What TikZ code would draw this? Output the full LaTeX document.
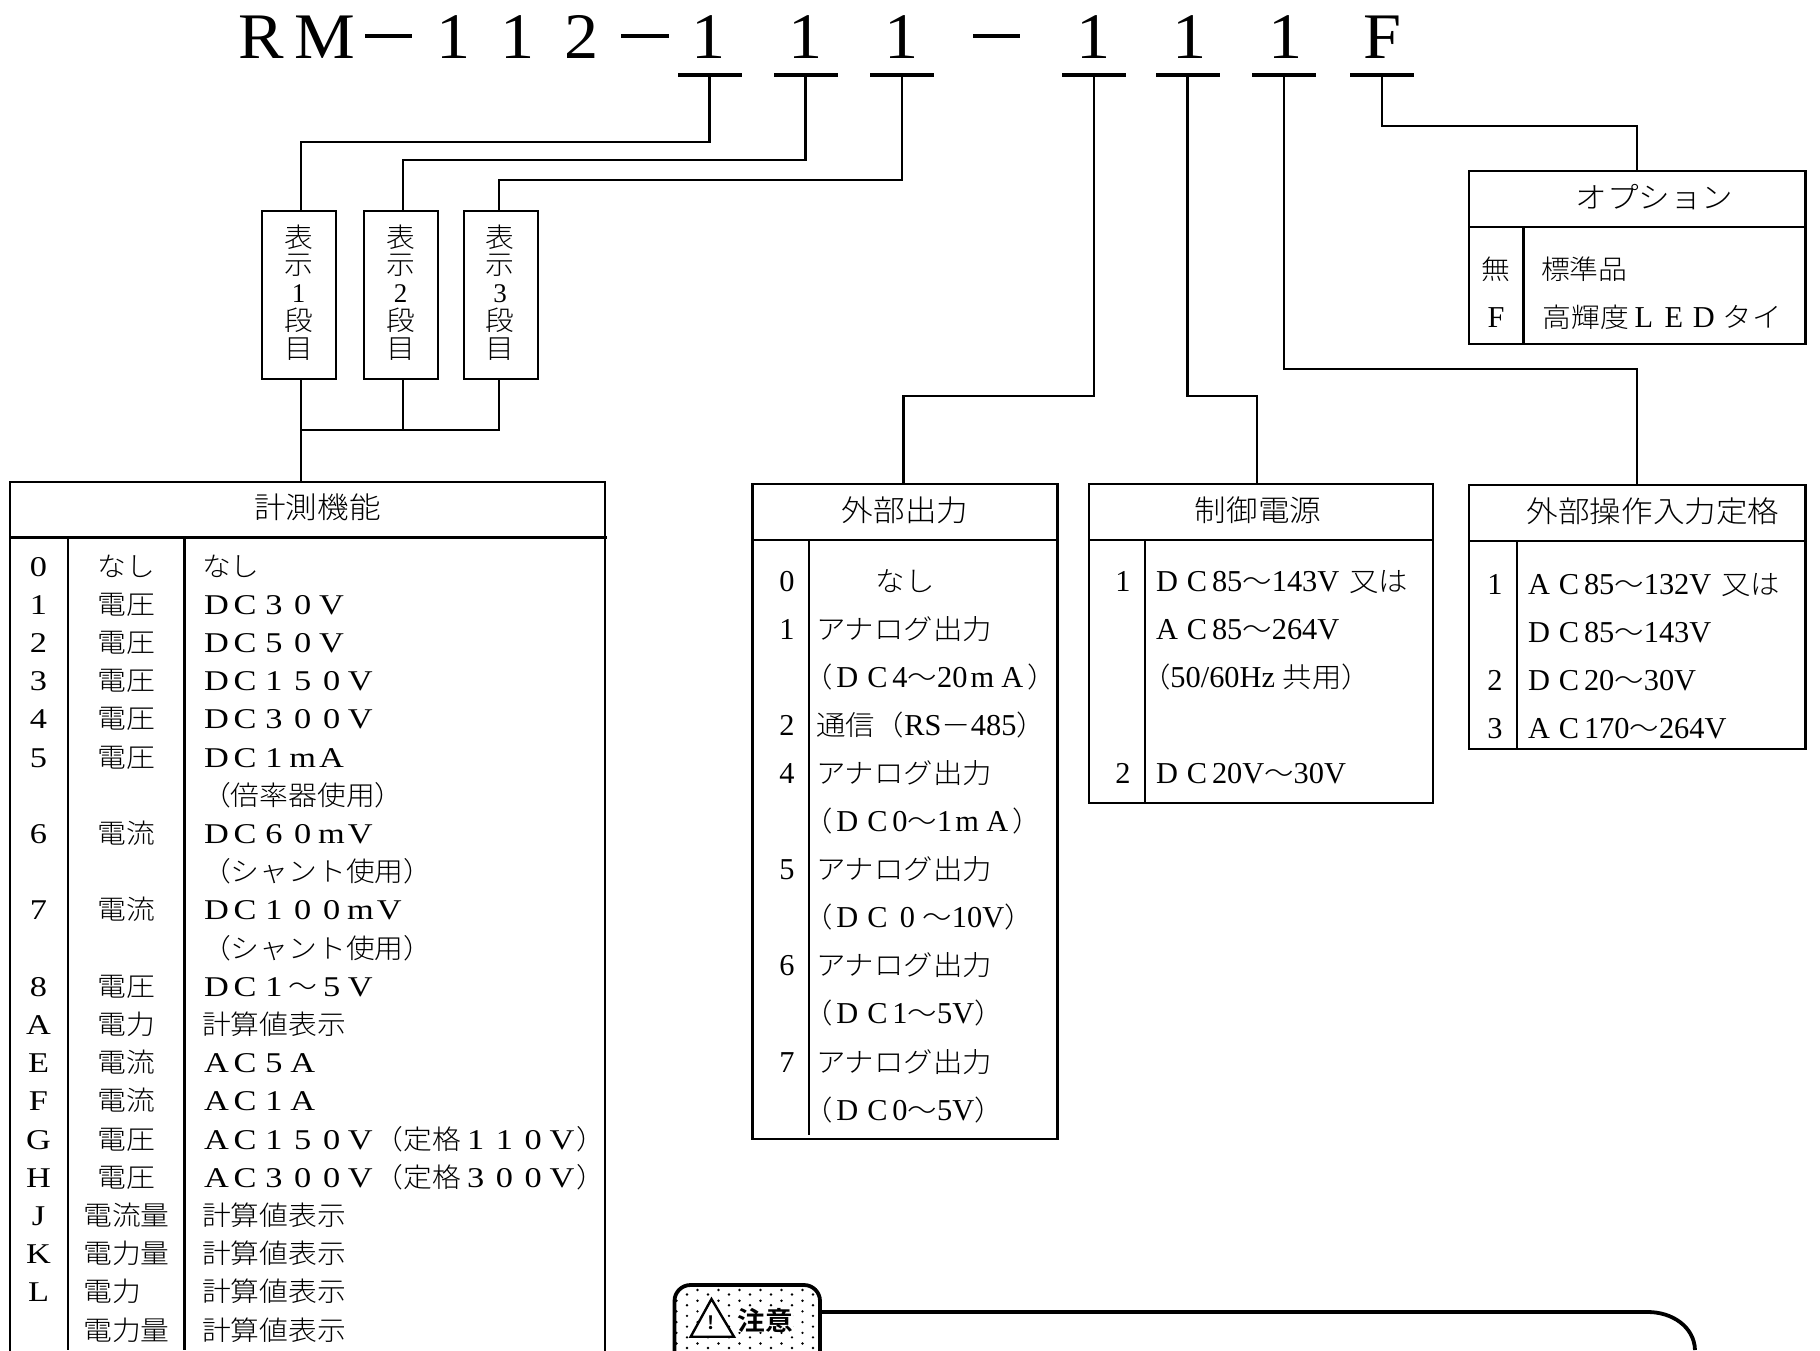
\documentclass[tikz,border=0pt]{standalone}
\usepackage{fontspec}
\setmainfont[FakeStretch=1.067,BoldFont={Noto Sans CJK JP Bold}]{Noto Sans CJK JP Light}
\newfontfamily\zwfont[FakeStretch=1.2,Scale=1.06]{Liberation Serif}
\newfontfamily\hwfont{Liberation Serif}
\newfontfamily\hbfont[Scale=1.1]{Liberation Serif}
\newfontfamily\titlefont[FakeStretch=1.05]{Liberation Serif}
\makeatletter
\newcommand\Zw[1]{\@tfor\zz:=#1\do{\makebox[14.4pt][c]{\zwfont\zz}}}
\newcommand\Zb[1]{\@tfor\zz:=#1\do{\makebox[15pt][c]{\hbfont\zz}}}
\makeatother
\newcommand\Hw[1]{{\hwfont #1}}
\newcommand\Hb[1]{{\hbfont #1}}
\newcommand\tb{\fontsize{13.8}{16}\selectfont}
\newcommand\hd{\fontsize{14.8}{16}\selectfont}
\newcounter{tn}
\tikzset{
  txt/.style={inner sep=0pt,outer sep=0pt,font=\fontsize{13.5}{16}\selectfont},
  tl/.style={txt,anchor=base west},
  tc/.style={txt,anchor=base},
  tit/.style={inner sep=0pt,outer sep=0pt,anchor=base,font=\titlefont\fontsize{32.5}{36}\selectfont},
  bar/.style={fill=black,draw=none,inner sep=0pt,outer sep=0pt,minimum width=32pt,minimum height=2.2pt},
  thickbox/.style={draw=black,line width=1.4pt,inner sep=0pt,outer sep=0pt,fill=none},
  rulel/.style={line width=1.1pt,black},
  conn/.style={line width=1.05pt,black},
}
\newcommand\TL[3]{\stepcounter{tn}\node[tl] (n\arabic{tn}) at (#1,#2) {#3};}
\newcommand\TC[3]{\stepcounter{tn}\node[tc] (n\arabic{tn}) at (#1,#2) {#3};}
\newcommand\BOX[5]{\node[thickbox,minimum width={(#4-#2)*0.5pt},minimum height={(#5-#3)*0.5pt}] (#1) at ({(#2+#4)/2},{(#3+#5)/2}) {};}
\newcommand\MR[4]{\TC{38.5}{576+38.2*#1}{#2}\TC{126.5}{576+38.2*#1}{#3}\TL{202}{576+38.2*#1}{#4}}
\newcommand\OR[3]{\TC{787}{591+48.1*#1}{\tb\Hb{#2}}\TL{816}{591+48.1*#1}{\tb #3}}
\newcommand\PR[3]{\TC{1123}{591+48.1*#1}{\tb\Hb{#2}}\TL{1152}{591+48.1*#1}{\tb #3}}
\newcommand\QR[3]{\TC{1495}{594+48.1*#1}{\tb\Hb{#2}}\TL{1524}{594+48.1*#1}{\tb #3}}
\begin{document}
\begin{tikzpicture}[x=0.5pt,y=-0.5pt]
\useasboundingbox (0,0) rectangle (1820,1350);
\fill[white] (0,0) rectangle (1820,1350);
\clip (0,0) rectangle (1820,1350);
% title
\foreach \x/\c [count=\i] in {261/R,325/M,454/1,518/1,582/2,709/1,806/1,902/1,1094/1,1190/1,1285.5/1,1382/F}
  \node[tit] (tt\i) at (\x,58) {\c};
\foreach \x/\w [count=\i] in {388.5/47,645/48,996.5/47}
  \fill[black] (\x-\w/2,34) rectangle (\x+\w/2,37.5);
% code bars
\node[bar] (b1) at (709.5,75) {};
\node[bar] (b2) at (805.5,75) {};
\node[bar] (b3) at (902,75) {};
\node[bar] (b4) at (1094,75) {};
\node[bar] (b5) at (1187.5,75) {};
\node[bar] (b6) at (1284,75) {};
\node[bar] (b7) at (1382,75) {};
% display boxes
\BOX{d1}{262}{211}{336}{379}
\BOX{d2}{364}{211}{438}{379}
\BOX{d3}{464}{211}{538}{379}
\foreach \x/\n in {298.5/1,400.5/2,500/3}{
  \TC{\x}{247}{表}\TC{\x}{274}{示}\TC{\x}{302}{\Hw{\n}}\TC{\x}{330}{段}\TC{\x}{358}{目}
}
% main table
\BOX{m}{10}{482}{605}{1500}
\draw[rulel] (10,537.5) -- (607,537.5);
\draw[rulel] (68,537.5) -- (68,1350);
\draw[rulel] (184.5,537.5) -- (184.5,1350);
\TC{317.5}{518}{\hd 計測機能}
\MR{0}{\Zw{0}}{なし}{なし}
\MR{1}{\Zw{1}}{電圧}{\Zw{DC30V}}
\MR{2}{\Zw{2}}{電圧}{\Zw{DC50V}}
\MR{3}{\Zw{3}}{電圧}{\Zw{DC150V}}
\MR{4}{\Zw{4}}{電圧}{\Zw{DC300V}}
\MR{5}{\Zw{5}}{電圧}{\Zw{DC1mA}}
\TL{202}{576+38.2*6}{（倍率器使用）}
\MR{7}{\Zw{6}}{電流}{\Zw{DC60mV}}
\TL{202}{576+38.2*8}{（シャント使用）}
\MR{9}{\Zw{7}}{電流}{\Zw{DC100mV}}
\TL{202}{576+38.2*10}{（シャント使用）}
\MR{11}{\Zw{8}}{電圧}{\Zw{DC1}～\Zw{5V}}
\MR{12}{\Zw{A}}{電力}{計算値表示}
\MR{13}{\Zw{E}}{電流}{\Zw{AC5A}}
\MR{14}{\Zw{F}}{電流}{\Zw{AC1A}}
\MR{15}{\Zw{G}}{電圧}{\Zw{AC150V}（定格\Zw{110V}）}
\MR{16}{\Zw{H}}{電圧}{\Zw{AC300V}（定格\Zw{300V}）}
\MR{17}{\Zw{J}}{電流量}{計算値表示}
\MR{18}{\Zw{K}}{電力量}{計算値表示}
\TC{38.5}{576+38.2*19}{\Zw{L}}\TL{83.5}{576+38.2*19}{電力}\TL{202}{576+38.2*19}{計算値表示}
\TC{126.5}{576+38.2*20}{電力量}\TL{202}{576+38.2*20}{計算値表示}
% output table
\BOX{o}{752.5}{484}{1057.5}{1139}
\draw[rulel] (752.5,540) -- (1057.5,540);
\draw[rulel] (809,540) -- (809,1135);
\TC{905}{521}{\hd 外部出力}
\TC{787}{591}{\tb\Hb{0}}\TC{905}{591}{\tb なし}
\OR{1}{1}{アナログ出力}
\TL{803}{591+48.1*2}{\tb（\Zb{DC}\Hb{4}～\Hb{20}\Zb{mA}）}
\OR{3}{2}{通信（\Hb{RS}－\Hb{485}）}
\OR{4}{4}{アナログ出力}
\TL{803}{591+48.1*5}{\tb（\Zb{DC}\Hb{0}～\Hb{1}\Zb{mA}）}
\OR{6}{5}{アナログ出力}
\TL{803}{591+48.1*7}{\tb（\Zb{DC0}～\Hb{10}\Hb{V}）}
\OR{8}{6}{アナログ出力}
\TL{803}{591+48.1*9}{\tb（\Zb{DC}\Hb{1}～\Hb{5}\Hb{V}）}
\OR{10}{7}{アナログ出力}
\TL{803}{591+48.1*11}{\tb（\Zb{DC}\Hb{0}～\Hb{5}\Hb{V}）}
% control power table
\BOX{p}{1089}{484}{1433}{803}
\draw[rulel] (1089,540) -- (1433,540);
\draw[rulel] (1145,540) -- (1145,803);
\TC{1258}{521}{\hd 制御電源}
\PR{0}{1}{\Zb{DC}\Hb{85}～\Hb{143V}\hspace{5pt}又は}
\TL{1152}{591+48.1}{\tb\Zb{AC}\Hb{85}～\Hb{264V}}
\TL{1141}{591+48.1*2}{\tb（\Hb{50/60Hz }共用）}
\PR{4}{2}{\Zb{DC}\Hb{20V}～\Hb{30V}}
% external input table
\BOX{q}{1469}{485}{1805.5}{749}
\draw[rulel] (1469,541) -- (1805.5,541);
\draw[rulel] (1517,541) -- (1517,749);
\TC{1653}{522}{\hd 外部操作入力定格}
\QR{0}{1}{\Zb{AC}\Hb{85}～\Hb{132V}\hspace{5pt}又は}
\TL{1524}{594+48.1}{\tb\Zb{DC}\Hb{85}～\Hb{143V}}
\QR{2}{2}{\Zb{DC}\Hb{20}～\Hb{30V}}
\QR{3}{3}{\Zb{AC}\Hb{170}～\Hb{264V}}
% option table
\BOX{r}{1469}{171}{1805.5}{344}
\draw[rulel] (1469,227) -- (1805.5,227);
\draw[rulel] (1523.5,227) -- (1523.5,344);
\TC{1654.5}{208}{\hd オプション}
\TC{1496}{279}{無}\TL{1541}{279}{標準品}
\TC{1496}{327}{\tb\Hb{F}}\TL{1542.5}{327}{高輝度\tb\Zb{LED}\hspace{2pt}タイ}
% connector junctions
\coordinate (j1) at (300.6,142);
\coordinate (j2) at (403,160);
\coordinate (j3) at (499,180);
\coordinate (k1) at (300.6,379);
\coordinate (k2) at (403,379);
\coordinate (k3) at (499,379);
\coordinate (mt) at (300.6,482);
\coordinate (bus) at (300.6,430);
\coordinate (j4) at (903.5,396);
\coordinate (j5) at (1257,396);
\coordinate (j6) at (1637,369);
\coordinate (j7) at (1637,125.7);
\draw[conn] (b1.south) |- (j1) -- (j1 |- d1.north);
\draw[conn] (b2.south) |- (j2) -- (j2 |- d2.north);
\draw[conn] (b3.south) |- (j3) -- (j3 |- d3.north);
\draw[conn] (k1) -- (mt);
\draw[conn] (k2) -- (k2 |- bus);
\draw[conn] (k3) -- (k3 |- bus) -- (bus);
\draw[conn] (b4.south) |- (j4) -- (j4 |- o.north);
\draw[conn] (b5.south) |- (j5) -- (j5 |- p.north);
\draw[conn] (b6.south) |- (j6) -- (j6 |- q.north);
\draw[conn] (b7.south) |- (j7) -- (j7 |- r.north);
% caution
\begin{scope}
\clip[rounded corners=8pt] (674.5,1285) rectangle (820,1400);
\foreach \c in {0,...,14}{
  \pgfmathsetmacro\off{mod(\c,2)*4.5}
  \foreach \r in {0,...,6}
    \fill[black] ({676.5+10.5*\c},{1290+\off+10.7*\r}) circle (0.65pt);
}
\end{scope}
\node[draw=black,line width=1.9pt,rounded corners=8pt,inner sep=0pt,minimum width=72.75pt,minimum height=57.5pt] (cb) at (747.25,1342.5) {};
\coordinate (ce) at (1695,1350);
\draw[line width=1.9pt,black] (cb.east |- 0,1312) -- (1648,1312) to[out=0,in=92] (ce);
\fill[white] (711.5,1299) -- (690.7,1336.7) -- (734,1336.7) -- cycle;
\draw[line width=1.2pt,black,line join=miter] (711.5,1299) -- (690.7,1336.7) -- (734,1336.7) -- cycle;
\node[inner sep=0pt,font=\fontsize{9}{10}\selectfont\bfseries] (ex) at (711.5,1323) {!};
\node[inner sep=0pt,font=\fontsize{13}{14}\selectfont\bfseries,fill=white] (chu) at (765,1320) {注意};
\end{tikzpicture}
\end{document}
